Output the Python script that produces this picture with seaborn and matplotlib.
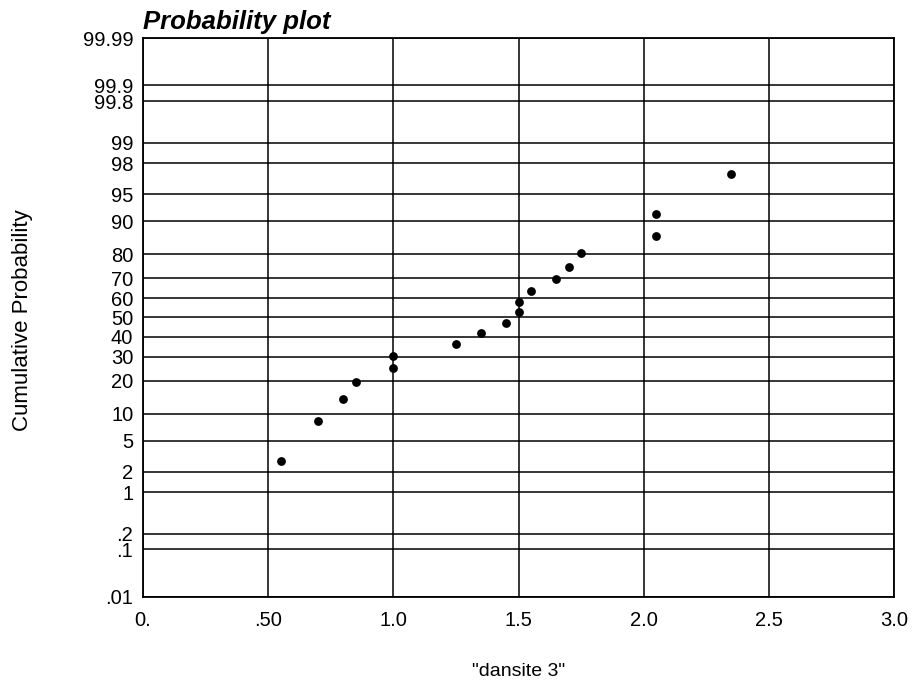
import numpy as np
import matplotlib
matplotlib.use("Agg")
import matplotlib.pyplot as plt
from matplotlib.ticker import NullLocator, FixedLocator, FixedFormatter
import seaborn as sns
import pandas as pd
from statistics import NormalDist

# ---- data ----
density = [0.55, 0.70, 0.80, 0.85, 1.00, 1.00, 1.25, 1.35, 1.45,
           1.50, 1.50, 1.55, 1.65, 1.70, 1.75, 2.05, 2.05, 2.35]
cum_prob = [2.8, 8.3, 13.9, 19.4, 25.0, 30.6, 36.1, 41.7, 47.2,
            52.8, 58.3, 63.9, 69.4, 75.0, 80.6, 86.1, 91.7, 97.2]

y_ticks = [0.01, 0.1, 0.2, 1, 2, 5, 10, 20, 30, 40, 50, 60, 70, 80,
           90, 95, 98, 99, 99.8, 99.9, 99.99]
y_tick_labels = [".01", ".1", ".2", "1", "2", "5", "10", "20", "30", "40",
                 "50", "60", "70", "80", "90", "95", "98", "99", "99.8",
                 "99.9", "99.99"]
x_ticks = [0.0, 0.5, 1.0, 1.5, 2.0, 2.5, 3.0]
x_tick_labels = ["0.", ".50", "1.0", "1.5", "2.0", "2.5", "3.0"]

df = pd.DataFrame({"x": density, "p": cum_prob})

# ---- normal probability scale ----
_nd = NormalDist()
_ppf = np.vectorize(_nd.inv_cdf, otypes=[float])
_cdf = np.vectorize(_nd.cdf, otypes=[float])


def forward(p):
    p = np.asarray(p, dtype=float)
    q = np.clip(p / 100.0, 1e-9, 1 - 1e-9)
    return _ppf(q)


def inverse(z):
    z = np.asarray(z, dtype=float)
    return _cdf(z) * 100.0


sns.set_style("white")
plt.rcParams["font.family"] = ["Liberation Sans", "DejaVu Sans"]

fig = plt.figure(figsize=(9.14, 6.85), dpi=100)
ax = fig.add_subplot(111)
fig.subplots_adjust(left=0.1565, right=0.9781, top=0.9441, bottom=0.1289)

ax.set_yscale("function", functions=(forward, inverse))

sns.scatterplot(data=df, x="x", y="p", ax=ax, color="black", s=40,
                marker="o", edgecolor="black", linewidth=0, zorder=3)

ax.set_xlim(0, 3)
ax.set_ylim(0.01, 99.99)

ax.yaxis.set_major_locator(FixedLocator(y_ticks))
ax.yaxis.set_major_formatter(FixedFormatter(y_tick_labels))
ax.yaxis.set_minor_locator(NullLocator())
ax.xaxis.set_major_locator(FixedLocator(x_ticks))
ax.xaxis.set_major_formatter(FixedFormatter(x_tick_labels))
ax.xaxis.set_minor_locator(NullLocator())

ax.grid(True, color="black", linewidth=1.1)
ax.set_axisbelow(True)
for sp in ax.spines.values():
    sp.set_visible(True)
    sp.set_color("black")
    sp.set_linewidth(1.3)

ax.tick_params(axis="both", length=0, labelsize=14.5, colors="black")
ax.tick_params(axis="y", pad=7)
ax.tick_params(axis="x", pad=10)

ax.set_xlabel('"dansite 3"', fontsize=14, color="black")
ax.set_ylabel("Cumulative Probability", fontsize=16, color="black")
ax.xaxis.set_label_coords(0.5, -0.118)
ax.yaxis.set_label_coords(-0.161, 0.495)
ax.xaxis.label.set_va("top")
ax.yaxis.label.set_va("center")

ax.set_title("Probability plot", loc="left", fontsize=18.5,
             fontweight="bold", fontstyle="italic", pad=7, color="black")

fig.savefig("out.png", dpi=100)
